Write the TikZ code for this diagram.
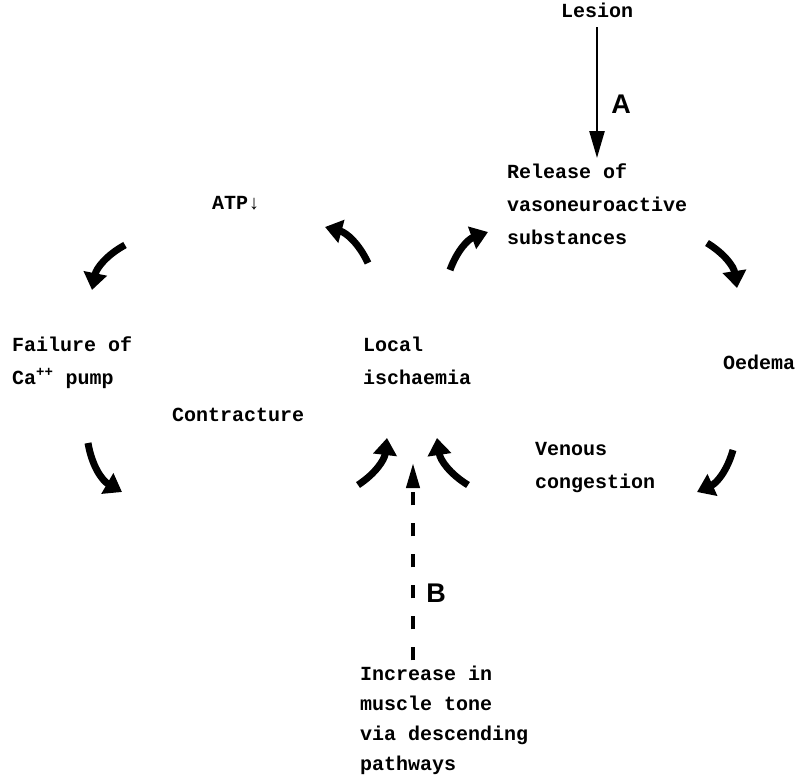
\documentclass[tikz,border=0pt]{standalone}
\usepackage{fontspec}
\setmonofont{Liberation Mono}
\newfontfamily\labfont{Liberation Sans}
\usetikzlibrary{arrows.meta}

\begin{document}
\begin{tikzpicture}[x=1pt, y=1pt,
    txt/.style={inner sep=0pt, align=left, font=\ttfamily\bfseries\fontsize{20}{33}\selectfont},
    lbl/.style={font=\labfont\bfseries\fontsize{27}{30}\selectfont},
    cyc/.style={line width=7pt, -{Triangle[length=17pt,width=23pt]}},
    arrA/.style={line width=2.5pt, -{Triangle[length=27pt,width=15pt]}},
    arrB/.style={line width=4pt, dash pattern=on 13pt off 18pt, -{Triangle[length=25pt,width=13pt]}}]

    \useasboundingbox (0,0) rectangle (795,-774);

    % texts (base = last line)
    \node[txt, anchor=base] (lesion) at (597,-17) {Lesion};
    \node[txt, anchor=base west] (release) at (507,-244) {Release of\\vasoneuroactive\\substances};
    \node[txt, anchor=base west] (atp) at (212,-209) {ATP↓};
    \node[txt, anchor=base west] (failure) at (12,-384) {Failure of\\Ca\textsuperscript{++} pump};
    \node[txt, anchor=base west] (isch) at (363,-384) {Local\\ischaemia};
    \node[txt, anchor=base west] (oedema) at (723,-369) {Oedema};
    \node[txt, anchor=base west] (contract) at (172,-421) {Contracture};
    \node[txt, anchor=base west] (venous) at (535,-488) {Venous\\congestion};
    \node[txt, anchor=base west, font=\ttfamily\bfseries\fontsize{20}{30}\selectfont] (increase) at (360,-770)
      {Increase in\\muscle tone\\via descending\\pathways};

    \node[lbl] (labA) at (621,-104) {A};
    \node[lbl] (labB) at (436,-593) {B};

    % A and B
    \draw[arrA, shorten <=10pt, shorten >=5pt] (lesion.south) -- (lesion |- release.north);
    \coordinate (bTip) at (413,-463);
    \draw[arrB, shorten <=5pt] (increase.north -| bTip) -- (bTip);

    % left cycle
    \coordinate (l1s) at (368,-263); \coordinate (l1e) at (325,-227);
    \coordinate (l2s) at (125,-245); \coordinate (l2e) at (92,-290);
    \coordinate (l3s) at (88,-443);  \coordinate (l3e) at (122,-492);
    \coordinate (l4s) at (358,-485); \coordinate (l4e) at (387,-438);
    \draw[cyc] (l1s) to[bend right=25] (l1e);
    \draw[cyc] (l2s) to[bend right=25] (l2e);
    \draw[cyc] (l3s) to[bend right=25] (l3e);
    \draw[cyc] (l4s) to[bend right=25] (l4e);

    % right cycle
    \coordinate (r1s) at (450,-270); \coordinate (r1e) at (488,-232);
    \coordinate (r2s) at (707,-243); \coordinate (r2e) at (737,-288);
    \coordinate (r3s) at (733,-450); \coordinate (r3e) at (697,-492);
    \coordinate (r4s) at (468,-485); \coordinate (r4e) at (437,-438);
    \draw[cyc] (r1s) to[bend left=25] (r1e);
    \draw[cyc] (r2s) to[bend left=25] (r2e);
    \draw[cyc] (r3s) to[bend left=25] (r3e);
    \draw[cyc] (r4s) to[bend left=25] (r4e);
\end{tikzpicture}
\end{document}
